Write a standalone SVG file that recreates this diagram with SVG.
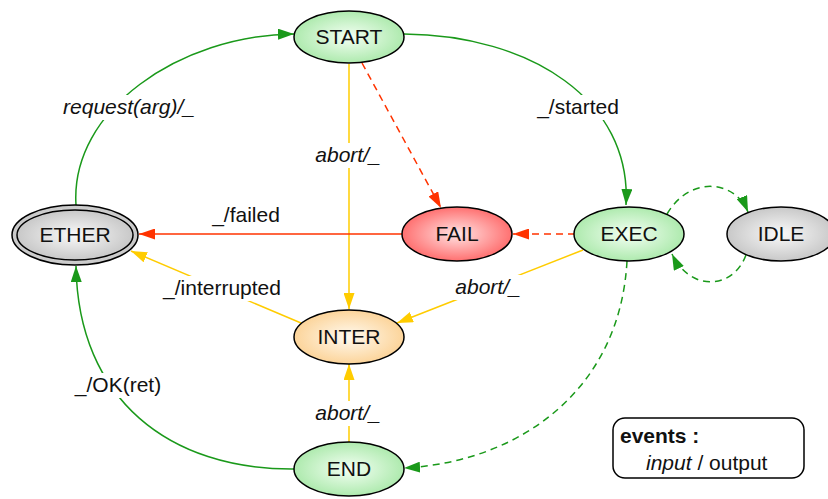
<svg xmlns="http://www.w3.org/2000/svg" width="828" height="499" viewBox="0 0 828 499">
<defs>
<radialGradient id="gGreen" cx="50%" cy="50%" r="50%"><stop offset="0" stop-color="#f4fff4"/><stop offset="1" stop-color="#aeeaae"/></radialGradient>
<radialGradient id="gRed" cx="50%" cy="50%" r="50%"><stop offset="0" stop-color="#ffe4e4"/><stop offset="1" stop-color="#ff7070"/></radialGradient>
<radialGradient id="gOrange" cx="50%" cy="50%" r="50%"><stop offset="0" stop-color="#fffaf0"/><stop offset="1" stop-color="#fcd49a"/></radialGradient>
<radialGradient id="gGray" cx="50%" cy="50%" r="50%"><stop offset="0" stop-color="#fafafa"/><stop offset="1" stop-color="#c8c8c8"/></radialGradient>
<marker id="aG" viewBox="0 0 16 11" refX="16" refY="5.5" markerWidth="16" markerHeight="11" markerUnits="userSpaceOnUse" orient="auto"><path d="M0,0 L16,5.5 L0,11 z" fill="#1a991a"/></marker>
<marker id="aY" viewBox="0 0 16 11" refX="16" refY="5.5" markerWidth="16" markerHeight="11" markerUnits="userSpaceOnUse" orient="auto"><path d="M0,0 L16,5.5 L0,11 z" fill="#ffcc00"/></marker>
<marker id="aR" viewBox="0 0 16 11" refX="16" refY="5.5" markerWidth="16" markerHeight="11" markerUnits="userSpaceOnUse" orient="auto"><path d="M0,0 L16,5.5 L0,11 z" fill="#ff3300"/></marker>
</defs>
<style>
text{font-family:"Liberation Sans",Arial,sans-serif;font-size:21px;fill:#111;}
.n{text-anchor:middle;}
.lbl{text-anchor:middle;}
.it{font-style:italic;}
.node{stroke:#000;stroke-width:1.5;}
.e{fill:none;stroke-width:1.5;}
.g{stroke:#1a991a;}
.y{stroke:#ffcc00;}
.r{stroke:#ff3300;}
.d{stroke-dasharray:7,5;}
.bg{fill:#fff;}
</style>
<g id="connectors">
<path class="e g" d="M76,205 C70,110 180,35 294,34" marker-end="url(#aG)"/>
<path class="e g" d="M404,34 C530,35 632,100 626,205" marker-end="url(#aG)"/>
<path class="e y" d="M349,64 L349,309" marker-end="url(#aY)"/>
<path class="e r d" d="M362,63 L441,208" marker-end="url(#aR)"/>
<path class="e r d" d="M575,234 L513,234" marker-end="url(#aR)"/>
<path class="e r" d="M402,234 L139,234" marker-end="url(#aR)"/>
<path class="e y" d="M583,250 L397,323" marker-end="url(#aY)"/>
<path class="e y" d="M301,323 L131,251" marker-end="url(#aY)"/>
<path class="e g" d="M294,469 C170,470 78,400 76,266" marker-end="url(#aG)"/>
<path class="e y" d="M349,442 L349,364" marker-end="url(#aY)"/>
<path class="e g d" d="M627,261 C620,390 520,462 404,468" marker-end="url(#aG)"/>
<path class="e g d" d="M667,214 C690,175 735,180 748,212" marker-end="url(#aG)"/>
<path class="e g d" d="M746,255 C733,290 690,292 672,254" marker-end="url(#aG)"/>
<rect class="bg" x="58" y="95" width="142" height="25"/>
<text class="lbl it" x="129" y="114">request(arg)/_</text>
<rect class="bg" x="533" y="95" width="90" height="25"/>
<text class="lbl" x="578" y="114">_/started</text>
<rect class="bg" x="311" y="143" width="74" height="25"/>
<text class="lbl it" x="348" y="162">abort/_</text>
<rect class="bg" x="311" y="401" width="74" height="25"/>
<text class="lbl it" x="348" y="420">abort/_</text>
<text class="lbl" x="246" y="222">_/failed</text>
<rect class="bg" x="451" y="275" width="74" height="25"/>
<text class="lbl it" x="488" y="294">abort/_</text>
<rect class="bg" x="158" y="276" width="128" height="25"/>
<text class="lbl" x="222" y="295">_/interrupted</text>
<rect class="bg" x="72" y="373" width="92" height="25"/>
<text class="lbl" x="118" y="392">_/OK(ret)</text>
</g>
<g id="START"><ellipse class="node" cx="349" cy="37" rx="55" ry="26" fill="url(#gGreen)"/><text class="n" x="349" y="44">START</text></g>
<g id="ETHER"><ellipse class="node" cx="75" cy="235" rx="63" ry="30" fill="url(#gGray)"/><ellipse class="node" cx="75" cy="235" rx="58" ry="25" fill="url(#gGray)"/><text class="n" x="75" y="242">ETHER</text></g>
<g id="FAIL"><ellipse class="node" cx="457" cy="234" rx="55" ry="27" fill="url(#gRed)"/><text class="n" x="457" y="241">FAIL</text></g>
<g id="EXEC"><ellipse class="node" cx="629" cy="234" rx="55" ry="27" fill="url(#gGreen)"/><text class="n" x="629" y="241">EXEC</text></g>
<g id="IDLE"><ellipse class="node" cx="781" cy="234" rx="54" ry="27" fill="url(#gGray)"/><text class="n" x="781" y="241">IDLE</text></g>
<g id="INTER"><ellipse class="node" cx="349" cy="337" rx="55" ry="27" fill="url(#gOrange)"/><text class="n" x="349" y="344">INTER</text></g>
<g id="END"><ellipse class="node" cx="349" cy="469" rx="55" ry="27" fill="url(#gGreen)"/><text class="n" x="349" y="476">END</text></g>
<g id="legend"><rect x="613" y="418" width="191" height="60" rx="12" fill="#fff" stroke="#000" stroke-width="1.5"/><text x="620" y="443" font-weight="bold">events :</text><text x="646" y="470"><tspan class="it">input</tspan> / output</text></g>
</svg>
